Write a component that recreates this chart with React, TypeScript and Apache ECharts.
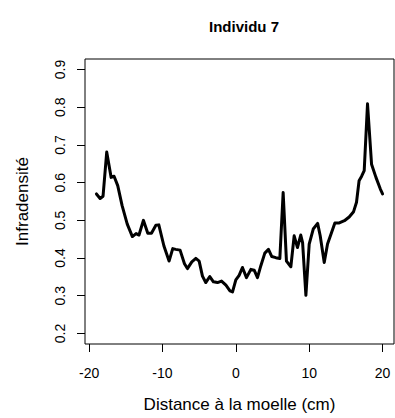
import React, { useEffect, useRef } from "react";
import * as echarts from "echarts";

const TITLE = "Individu 7";
const X_NAME = "Distance à la moelle (cm)";
const Y_NAME = "Infradensité";
const X_TICKS = [-20, -10, 0, 10, 20];
const Y_TICKS = [0.2, 0.3, 0.4, 0.5, 0.6, 0.7, 0.8, 0.9];

const distance = [
  -19, -18.5, -18.1, -17.6, -17, -16.6, -16.1, -15.5, -14.8, -14.1, -13.6, -13.2,
  -12.6, -12, -11.5, -10.9, -10.5, -9.8, -9.1, -8.6, -8.2, -7.6, -7, -6.6, -6,
  -5.45, -5, -4.55, -4.1, -3.55, -3.05, -2.5, -1.95, -1.35, -0.8, -0.45, 0, 0.45,
  0.9, 1.45, 2.05, 2.5, 2.95, 3.4, 3.95, 4.45, 4.9, 5.45, 6, 6.45, 6.9, 7.5, 7.95,
  8.4, 8.85, 9.1, 9.55, 10, 10.55, 11.15, 11.5, 12.05, 12.5, 13.05, 13.5, 14.1,
  14.8, 15.45, 16.05, 16.45, 16.8, 17.15, 17.5, 17.95, 18.5, 19.1, 19.7, 20,
];
const infradensite = [
  0.57, 0.558, 0.564, 0.681, 0.614, 0.617, 0.592, 0.539, 0.49, 0.457, 0.465, 0.461,
  0.5, 0.466, 0.466, 0.487, 0.488, 0.432, 0.392, 0.425, 0.423, 0.421, 0.385, 0.372,
  0.39, 0.399, 0.392, 0.352, 0.335, 0.351, 0.337, 0.335, 0.339, 0.328, 0.313, 0.31,
  0.342, 0.354, 0.375, 0.348, 0.37, 0.368, 0.348, 0.379, 0.413, 0.423, 0.404, 0.401,
  0.399, 0.574, 0.392, 0.377, 0.459, 0.428, 0.461, 0.441, 0.301, 0.437, 0.477, 0.492,
  0.459, 0.388, 0.437, 0.468, 0.493, 0.493, 0.499, 0.509, 0.523, 0.548, 0.605, 0.617,
  0.632, 0.809, 0.649, 0.614, 0.583, 0.57,
];

const FONT = "Liberation Sans, Arial, sans-serif";

export default function App() {
  const ref = useRef<HTMLDivElement>(null);
  useEffect(() => {
    if (!ref.current) return;
    const chart = echarts.init(ref.current, null, { renderer: "svg" });
    const data = distance.map((x, i) => [x, infradensite[i]]);
    chart.setOption({
      animation: false,
      backgroundColor: "#fff",
      title: {
        text: TITLE,
        left: 239,
        top: 14,
        textAlign: "center",
        textStyle: { fontFamily: FONT, fontSize: 15, fontWeight: "bold", color: "#000" },
      },
      grid: {
        left: 85,
        right: 1,
        top: 59,
        bottom: 74,
        show: true,
        borderColor: "#000",
        borderWidth: 1,
        backgroundColor: "transparent",
      },
      xAxis: {
        type: "value",
        min: -20.56,
        max: 21.56,
        name: X_NAME,
        nameLocation: "middle",
        nameGap: 52,
        nameTextStyle: { fontFamily: FONT, fontSize: 17, color: "#000" },
        axisLine: { show: false, onZero: false },
        axisTick: {
          show: true,
          inside: false,
          length: 8,
          customValues: X_TICKS,
          lineStyle: { color: "#000", width: 1 },
        },
        axisLabel: {
          customValues: X_TICKS,
          margin: 22,
          fontFamily: FONT,
          fontSize: 14,
          color: "#000",
        },
        splitLine: { show: false },
      },
      yAxis: {
        type: "value",
        min: 0.172,
        max: 0.928,
        name: Y_NAME,
        nameLocation: "middle",
        nameRotate: 90,
        nameGap: 54,
        nameTextStyle: { fontFamily: FONT, fontSize: 17, color: "#000" },
        axisLine: { show: false, onZero: false },
        axisTick: {
          show: true,
          inside: false,
          length: 8,
          customValues: Y_TICKS,
          lineStyle: { color: "#000", width: 1 },
        },
        axisLabel: {
          customValues: Y_TICKS,
          rotate: 90,
          margin: 18,
          fontFamily: FONT,
          fontSize: 14,
          color: "#000",
          formatter: (v: number) => v.toFixed(1),
        },
        splitLine: { show: false },
      },
      series: [
        {
          type: "line",
          data,
          showSymbol: false,
          symbol: "none",
          lineStyle: { color: "#000", width: 3, join: "round", cap: "round" },
        },
      ],
    });
    return () => chart.dispose();
  }, []);
  return (
    <div
      ref={ref}
      style={{ position: "fixed", left: 0, top: 0, width: 395, height: 418 }}
    />
  );
}
